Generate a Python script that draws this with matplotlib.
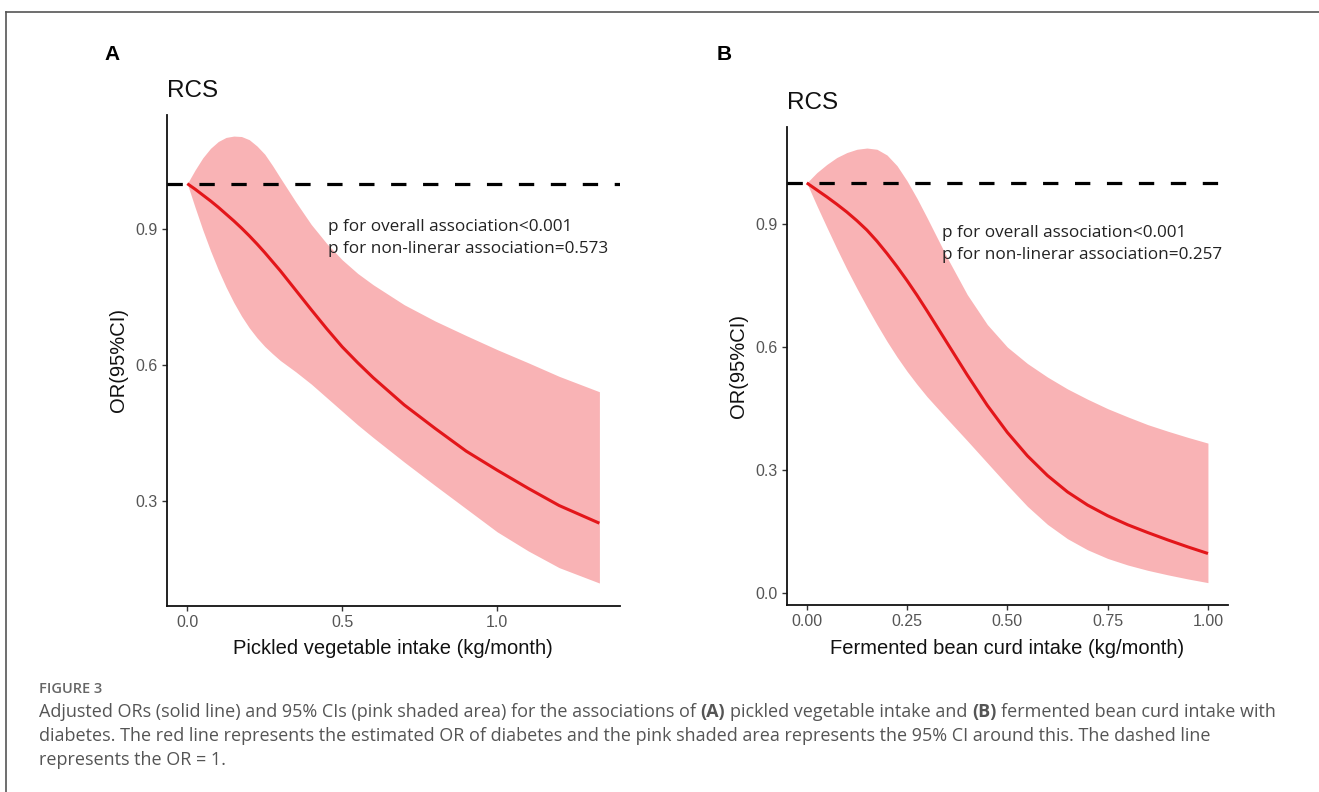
import matplotlib
matplotlib.use("Agg")
import matplotlib.pyplot as plt
from matplotlib.lines import Line2D

# Panel A: pickled vegetable intake
a_x = [0.0, 0.025, 0.05, 0.075, 0.1, 0.125, 0.15, 0.175, 0.2, 0.225, 0.25, 0.275, 0.3,
       0.35, 0.4, 0.45, 0.5, 0.55, 0.6, 0.7, 0.8, 0.9, 1.0, 1.1, 1.2, 1.33]
a_or = [1.0, 0.988, 0.975, 0.962, 0.948, 0.933, 0.918, 0.902, 0.885, 0.867, 0.848, 0.828, 0.808,
        0.765, 0.722, 0.68, 0.64, 0.605, 0.572, 0.512, 0.46, 0.41, 0.368, 0.328, 0.29, 0.251]
a_lo = [1.0, 0.948, 0.898, 0.852, 0.81, 0.772, 0.738, 0.708, 0.682, 0.66, 0.641, 0.625, 0.61,
        0.585, 0.558, 0.528, 0.498, 0.468, 0.44, 0.386, 0.334, 0.283, 0.232, 0.19, 0.153, 0.119]
a_hi = [1.0, 1.03, 1.057, 1.078, 1.093, 1.102, 1.105, 1.104, 1.097, 1.083, 1.065, 1.04, 1.013,
        0.96, 0.91, 0.868, 0.832, 0.802, 0.777, 0.733, 0.697, 0.665, 0.634, 0.605, 0.575, 0.541]

# Panel B: fermented bean curd intake
b_x = [0.0, 0.025, 0.05, 0.075, 0.1, 0.125, 0.15, 0.175, 0.2, 0.225, 0.25, 0.275, 0.3,
       0.35, 0.4, 0.45, 0.5, 0.55, 0.6, 0.65, 0.7, 0.75, 0.8, 0.85, 0.9, 0.95, 1.0]
b_or = [1.0, 0.983, 0.966, 0.948, 0.929, 0.908, 0.885, 0.858, 0.828, 0.796, 0.762, 0.726, 0.688,
        0.61, 0.532, 0.458, 0.392, 0.335, 0.287, 0.247, 0.215, 0.189, 0.167, 0.148, 0.13, 0.113, 0.097]
b_lo = [1.0, 0.945, 0.892, 0.84, 0.79, 0.743, 0.698, 0.655, 0.614, 0.576, 0.541, 0.509, 0.479,
        0.425, 0.372, 0.318, 0.264, 0.212, 0.168, 0.133, 0.106, 0.085, 0.069, 0.056, 0.045, 0.035, 0.026]
b_hi = [1.0, 1.025, 1.045, 1.062, 1.074, 1.082, 1.085, 1.082, 1.068, 1.042, 1.005, 0.962, 0.915,
        0.818, 0.728, 0.655, 0.6, 0.56, 0.527, 0.498, 0.473, 0.45, 0.43, 0.411, 0.395, 0.38, 0.366]

a_xticks = [0.0, 0.5, 1.0]
a_xlabels = ["0.0", "0.5", "1.0"]
a_yticks = [0.3, 0.6, 0.9]
b_xticks = [0.0, 0.25, 0.5, 0.75, 1.0]
b_xlabels = ["0.00", "0.25", "0.50", "0.75", "1.00"]
b_yticks = [0.0, 0.3, 0.6, 0.9]

p_text_a = "p for overall association<0.001\np for non-linerar association=0.573"
p_text_b = "p for overall association<0.001\np for non-linerar association=0.257"

SANS = ["Liberation Sans", "DejaVu Sans"]
CAP = ["Open Sans", "DejaVu Sans"]
PINK = "#f9b3b5"
RED = "#e3161a"

fig = plt.figure(figsize=(13.19, 7.92), dpi=100)


def panel(rect, x, y, lo, hi, xlim, ylim, xticks, xlabels, yticks, xtitle, ptext, pxy):
    ax = fig.add_axes(rect)
    ax.fill_between(x, lo, hi, color=PINK, lw=0, zorder=1)
    ax.plot(x, y, color=RED, lw=2.2, solid_capstyle="butt", zorder=3)
    ax.axhline(1.0, color="black", lw=2.3, dashes=(4.8, 5.2), zorder=4)
    ax.set_xlim(*xlim)
    ax.set_ylim(*ylim)
    ax.set_xticks(xticks)
    ax.set_xticklabels(xlabels)
    ax.set_yticks(yticks)
    ax.set_yticklabels([f"{v:.1f}" for v in yticks])
    for s in ["top", "right"]:
        ax.spines[s].set_visible(False)
    for s in ["left", "bottom"]:
        ax.spines[s].set_linewidth(1.3)
        ax.spines[s].set_color("#111111")
    ax.tick_params(length=3.5, width=1.0, color="#333333", labelcolor="#555555",
                   labelsize=11.5, pad=3)
    for lab in ax.get_xticklabels() + ax.get_yticklabels():
        lab.set_family(SANS)
    ax.set_xlabel(xtitle, family=SANS, fontsize=14.5, color="#111111", labelpad=7)
    ax.set_ylabel("OR(95%CI)", family=SANS, fontsize=14.5, color="#111111", labelpad=5)
    ax.set_title("RCS", loc="left", family=SANS, fontsize=17.5, color="#111111", pad=13)
    ax.text(pxy[0], pxy[1], ptext, family=CAP, fontsize=12.3, color="#222222",
            va="center", ha="left", linespacing=1.5, zorder=5)
    return ax


panel([166.7 / 1319, 1 - 605.7 / 792, (620 - 166.7) / 1319, (605.7 - 115) / 792],
      a_x, a_or, a_lo, a_hi, (-0.0665, 1.3965), (0.069, 1.1515),
      a_xticks, a_xlabels, a_yticks, "Pickled vegetable intake (kg/month)",
      p_text_a, (0.455, 0.88))

panel([786.7 / 1319, 1 - 605 / 792, (1228 - 786.7) / 1319, (605 - 126.7) / 792],
      b_x, b_or, b_lo, b_hi, (-0.05, 1.05), (-0.0285, 1.137),
      b_xticks, b_xlabels, b_yticks, "Fermented bean curd intake (kg/month)",
      p_text_b, (0.338, 0.85))

fig.text(104 / 1319, 1 - 55 / 792, "A", family=SANS, fontsize=15, weight="bold", va="center")
fig.text(717 / 1319, 1 - 55 / 792, "B", family=SANS, fontsize=15, weight="bold", va="center")

# frame of the figure box
fig.add_artist(Line2D([5.5 / 1319, 1.0], [1 - 12 / 792, 1 - 12 / 792], color="#555555", lw=1.2))
fig.add_artist(Line2D([5.5 / 1319, 5.5 / 1319], [0.0, 1 - 12 / 792], color="#555555", lw=1.2))

# caption
fig.text(39 / 1319, 1 - 689 / 792, "FIGURE 3", family=CAP, fontsize=10.5, color="#666666",
         weight="semibold", va="center")

cap_lines = [
    [("Adjusted ORs (solid line) and 95% CIs (pink shaded area) for the associations of", "normal"),
     ("(A)", "bold"), ("pickled vegetable intake and", "normal"), ("(B)", "bold"),
     ("fermented bean curd intake with", "normal")],
    [("diabetes. The red line represents the estimated OR of diabetes and the pink shaded area "
      "represents the 95% CI around this. The dashed line", "normal")],
    [("represents the OR = 1.", "normal")],
]
cap_y = [712, 736, 760]
CAP_SIZE = 13
renderer = fig.canvas.get_renderer()
probe1 = fig.text(0, 0, "x x", family=CAP, fontsize=CAP_SIZE)
probe2 = fig.text(0, 0, "xx", family=CAP, fontsize=CAP_SIZE)
space_w = probe1.get_window_extent(renderer).width - probe2.get_window_extent(renderer).width
probe1.remove()
probe2.remove()
for segs, yy in zip(cap_lines, cap_y):
    xpix = 39.0
    for txt, wt in segs:
        t = fig.text(xpix / 1319, 1 - yy / 792, txt, family=CAP, fontsize=CAP_SIZE,
                     color="#555555", weight=wt, va="center")
        xpix += t.get_window_extent(renderer).width + space_w

fig.savefig("out.png", dpi=100)
